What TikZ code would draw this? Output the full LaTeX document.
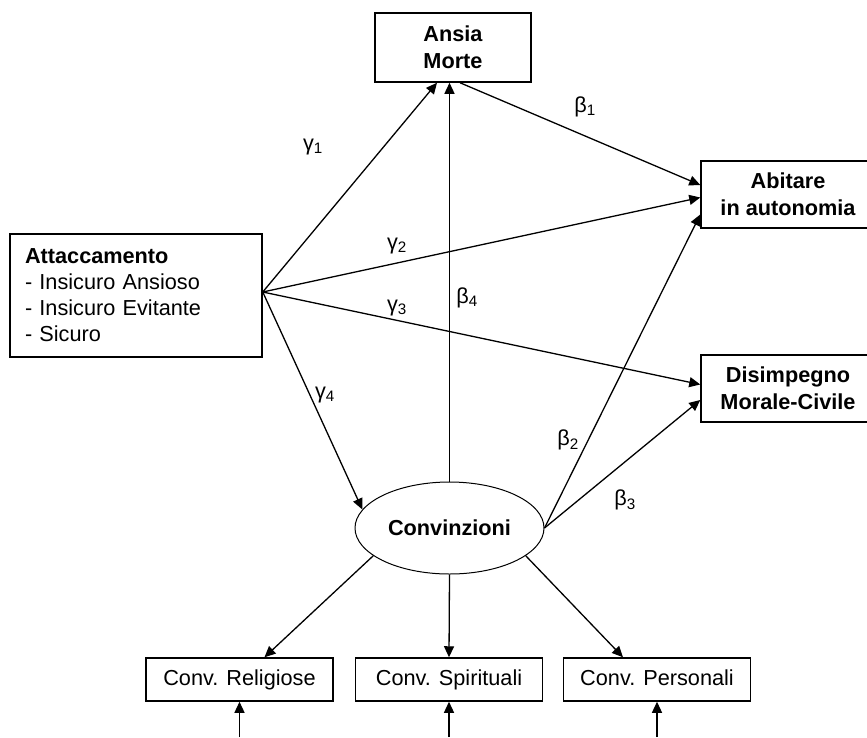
\documentclass[tikz,border=0pt]{standalone}
\usepackage{fontspec}
\setmainfont{Liberation Sans}
\usetikzlibrary{arrows.meta,shapes.geometric}

\begin{document}
\begin{tikzpicture}[x=1pt,y=-1pt,line width=1.3pt,>={Triangle[length=11pt,width=10pt]}]
    \tikzstyle{var}=[rectangle,draw,line width=1.5pt,align=center,inner sep=0pt,font=\fontsize{21.7}{27}\selectfont\bfseries]
    \tikzstyle{ind}=[rectangle,draw,line width=1.5pt,inner sep=0pt,minimum width=187pt,minimum height=43pt,
        text height=16pt,text depth=4.5pt,font=\fontsize{21.7}{26}\selectfont]
    \tikzstyle{coeff}=[inner sep=0pt,font=\fontsize{21.7}{26}\selectfont]
    \useasboundingbox (0,0) rectangle (867,737);

    \node[var,minimum width=156pt,minimum height=69pt] (ansia) at (453,47.5) {Ansia\\Morte};
    \node[var,minimum width=174pt,minimum height=67pt] (abitare) at (788,194.5) {Abitare\\in autonomia};
    \node[var,minimum width=174pt,minimum height=67pt] (disimp) at (788,388.5) {Disimpegno\\Morale-Civile};
    \node[rectangle,draw,line width=1.5pt,align=left,inner sep=15pt,text width=222pt,minimum height=121pt,
        font=\fontsize{21.7}{26}\selectfont] (attacc) at (136,295.5)
        {\textbf{Attaccamento}\\- Insicuro Ansioso\\- Insicuro Evitante\\- Sicuro};
    \node[ellipse,draw,line width=1pt,inner sep=0pt,minimum width=189pt,minimum height=92pt,
        font=\fontsize{21.7}{26}\selectfont\bfseries] (conv) at (449.5,528) {Convinzioni};
    \coordinate (src) at ([yshift=3.5pt]attacc.east);

    \foreach \n/\x/\t in {rel/239.5/Religiose,spir/449/Spirituali,pers/657/Personali} {
        \node[ind] (\n) at (\x,679.5) {Conv. \t};
        \coordinate (\n0) at (\x,737);
        \draw[->] (\n0) -- (\n);
    };

    \draw[->] (src) -- ([xshift=-16pt]ansia.south);
    \draw[->] (src) -- ([yshift=-3pt]abitare.west);
    \draw[->] (src) -- ([yshift=4pt]disimp.west);
    \draw[->] (src) -- (conv.168);
    \draw[->] ([xshift=7pt]ansia.south) -- ([yshift=9.5pt]abitare.west);
    \draw[->] (conv.north) -- (conv.north |- ansia.south);
    \draw[->] (conv.east) -- ([yshift=-20pt]abitare.west);
    \draw[->] (conv.east) -- ([yshift=-11.5pt]disimp.west);
    \draw[->] (conv.200) -- ([xshift=25pt]rel.north);
    \draw[->] (conv.south) -- (spir.north);
    \draw[->] (conv.340) -- ([xshift=-34pt]pers.north);

    \node[coeff] (g1) at (313,147) {γ\textsubscript{1}};
    \node[coeff] (g2) at (397,246) {γ\textsubscript{2}};
    \node[coeff] (g3) at (397,308) {γ\textsubscript{3}};
    \node[coeff] (g4) at (325,395) {γ\textsubscript{4}};
    \node[coeff] (b1) at (585,107) {β\textsubscript{1}};
    \node[coeff] (b2) at (568,440) {β\textsubscript{2}};
    \node[coeff] (b3) at (625,500) {β\textsubscript{3}};
    \node[coeff] (b4) at (467,298) {β\textsubscript{4}};
\end{tikzpicture}
\end{document}
